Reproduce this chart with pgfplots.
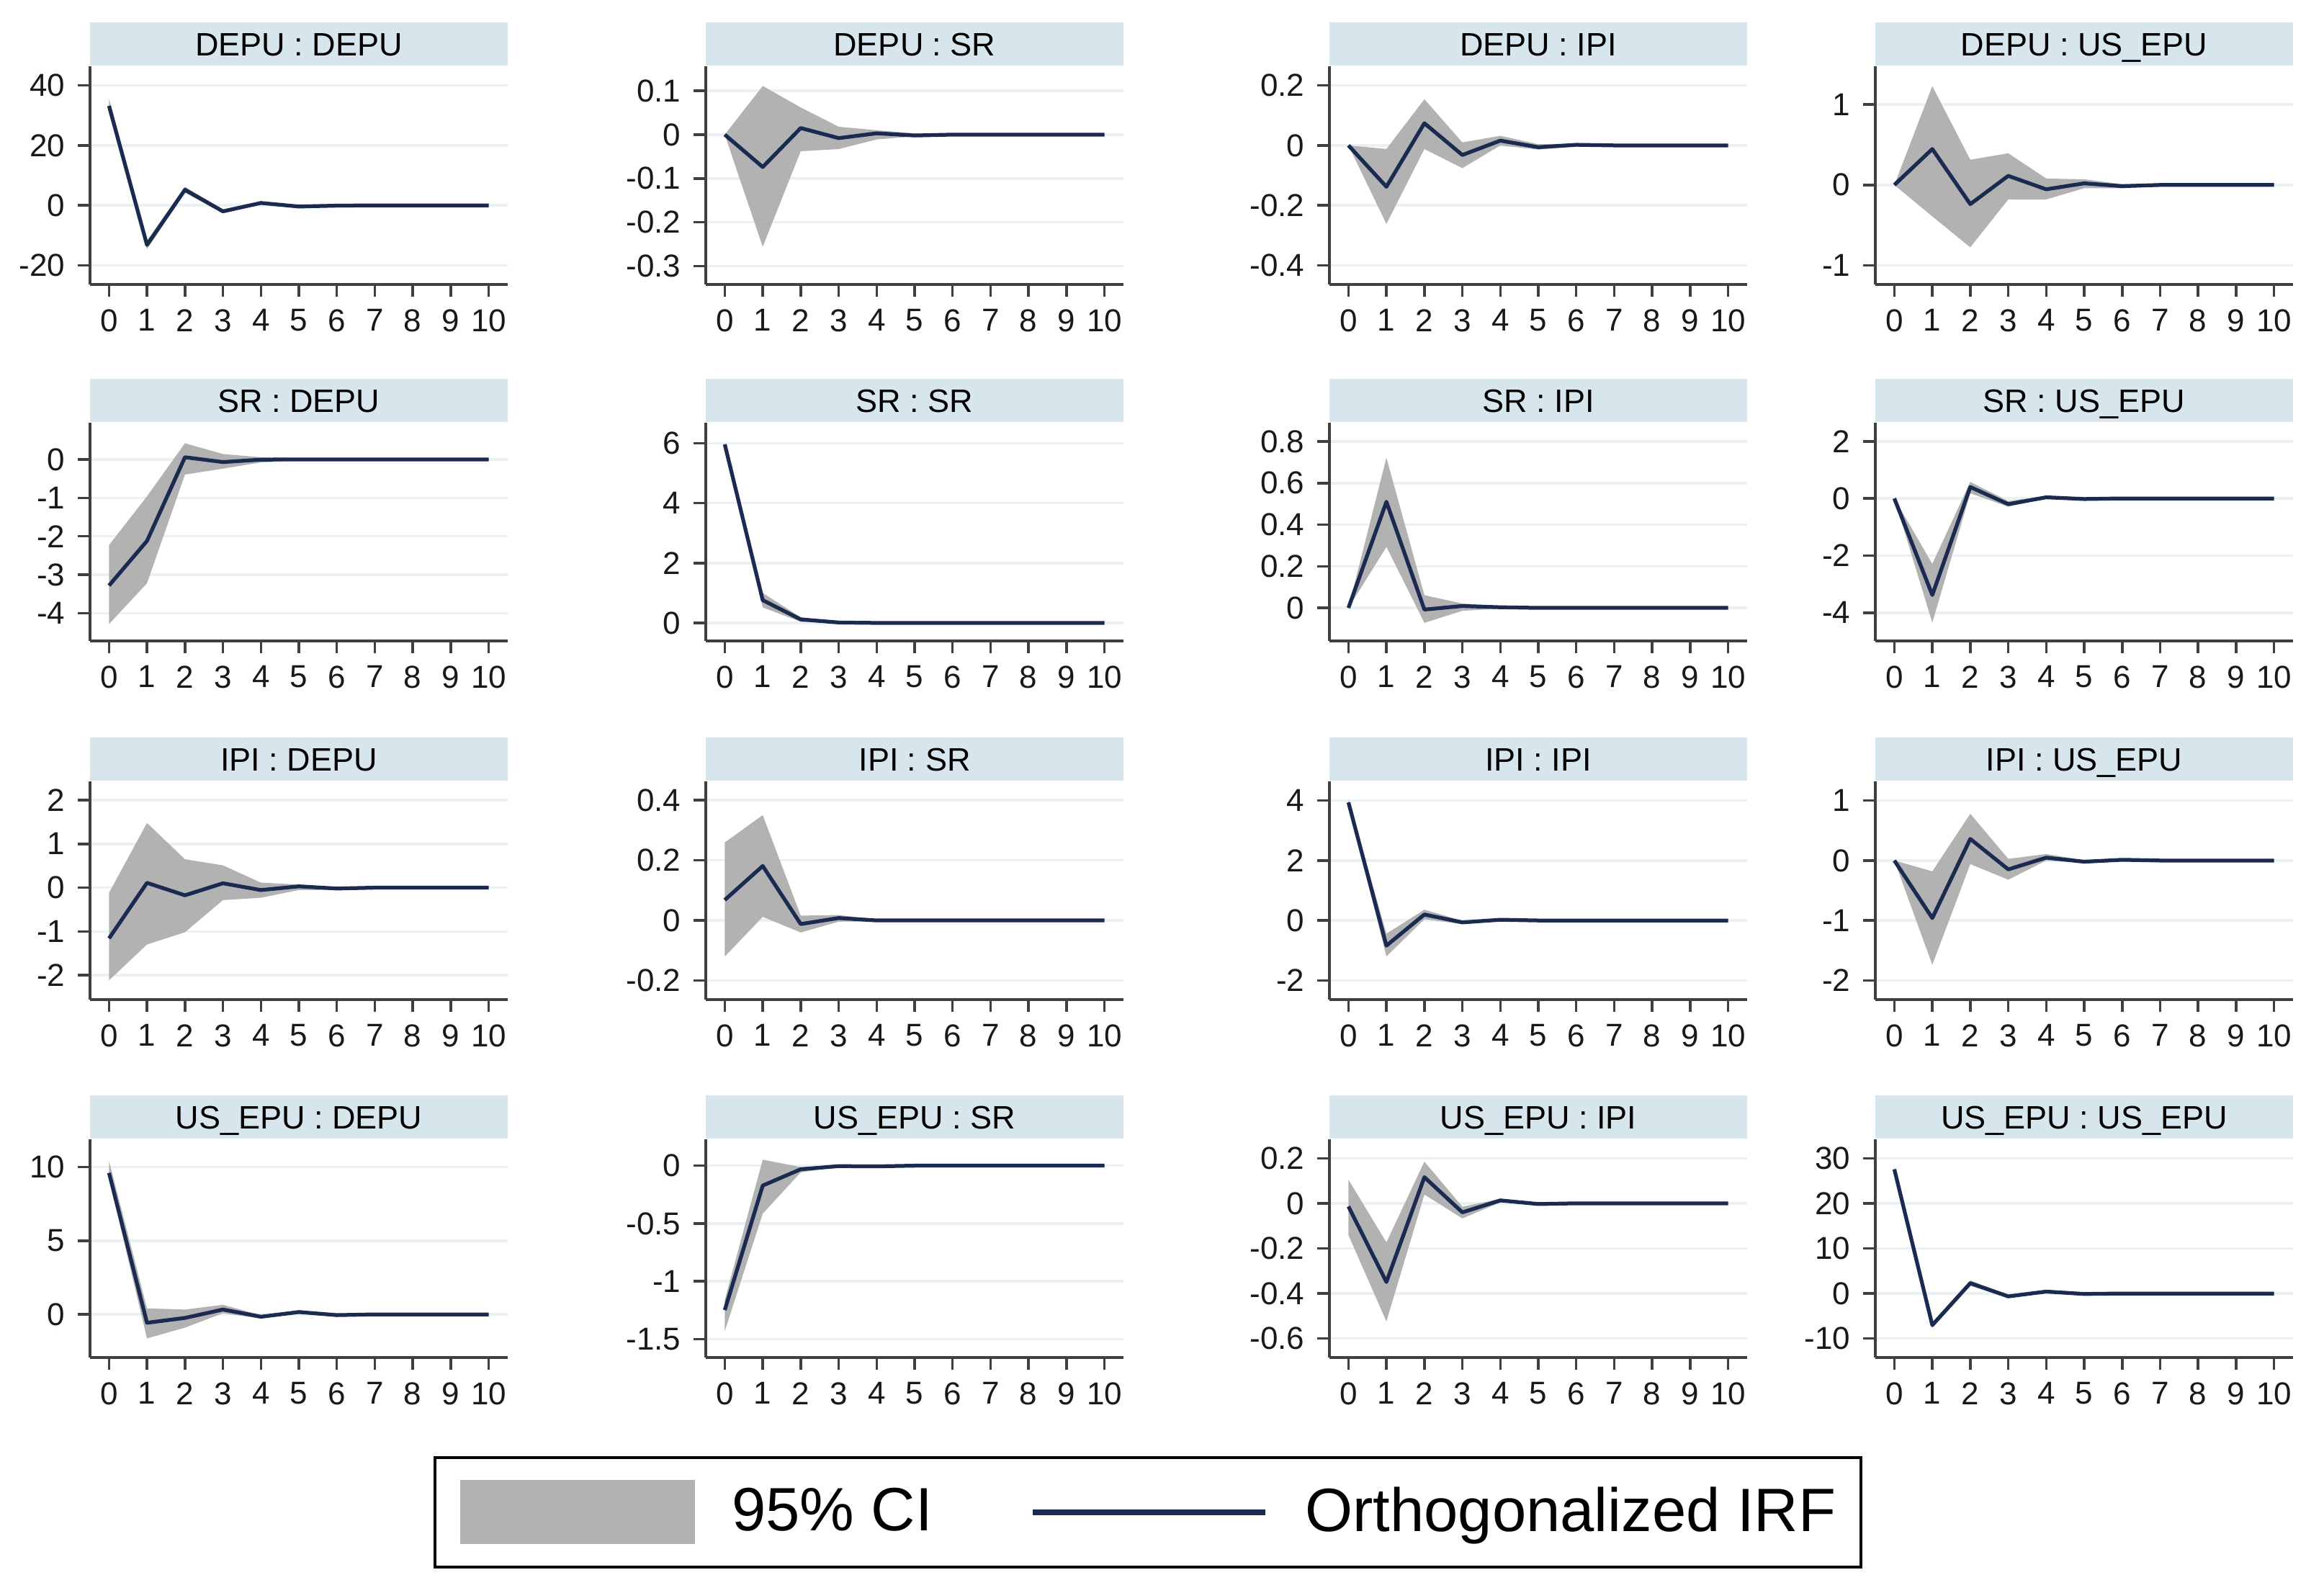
\documentclass[border=0pt]{standalone}
\usepackage{pgfplots}
\pgfplotsset{compat=1.18}
\usepackage{pgfplotstable}
\usepgfplotslibrary{fillbetween}
\usepackage{fontspec}
\setmainfont{Liberation Sans}
\definecolor{strip}{RGB}{214,230,236}
\definecolor{gridc}{RGB}{233,241,244}
\definecolor{cigray}{RGB}{178,178,178}
\definecolor{irfnavy}{RGB}{26,42,80}
\definecolor{axisc}{RGB}{64,64,64}

\pgfplotstableread{
x lo irf hi
0 30.8 33.2 35.6
1 -14.6 -13.2 -11.8
2 4.2 5.2 6.2
3 -2.6 -2.0 -1.4
4 0.3 0.8 1.3
5 -0.8 -0.4 0.0
6 -0.4 -0.1 0.2
7 -0.2 0 0.2
8 -0.1 0 0.1
9 -0.1 0 0.1
10 -0.1 0 0.1
}\tA
\pgfplotstableread{
x lo irf hi
0 0 0 0
1 -0.256 -0.074 0.111
2 -0.038 0.015 0.062
3 -0.033 -0.008 0.018
4 -0.011 0.003 0.010
5 -0.004 -0.002 0.003
6 -0.002 0 0.002
7 -0.001 0 0.001
8 -0.001 0 0.001
9 -0.001 0 0.001
10 -0.001 0 0.001
}\tB
\pgfplotstableread{
x lo irf hi
0 0 0 0
1 -0.262 -0.138 -0.012
2 -0.012 0.074 0.154
3 -0.076 -0.032 0.010
4 0.000 0.016 0.032
5 -0.014 -0.006 0.004
6 -0.004 0.002 0.006
7 -0.003 0 0.003
8 -0.002 0 0.002
9 -0.002 0 0.002
10 -0.002 0 0.002
}\tC
\pgfplotstableread{
x lo irf hi
0 0 0 0
1 -0.39 0.446 1.226
2 -0.774 -0.238 0.313
3 -0.18 0.113 0.393
4 -0.18 -0.054 0.08
5 -0.04 0.02 0.07
6 -0.04 -0.015 0.01
7 -0.015 0 0.015
8 -0.01 0 0.01
9 -0.01 0 0.01
10 -0.01 0 0.01
}\tD
\pgfplotstableread{
x lo irf hi
0 -4.28 -3.28 -2.23
1 -3.22 -2.12 -0.96
2 -0.395 0.056 0.42
3 -0.24 -0.069 0.14
4 -0.08 -0.006 0.056
5 -0.03 0 0.03
6 -0.015 0 0.015
7 -0.01 0 0.01
8 -0.01 0 0.01
9 -0.01 0 0.01
10 -0.01 0 0.01
}\tE
\pgfplotstableread{
x lo irf hi
0 5.90 5.96 6.02
1 0.52 0.76 1.00
2 0.04 0.12 0.19
3 -0.01 0.016 0.04
4 -0.01 0.002 0.015
5 -0.005 0 0.005
6 -0.005 0 0.005
7 -0.005 0 0.005
8 -0.005 0 0.005
9 -0.005 0 0.005
10 -0.005 0 0.005
}\tF
\pgfplotstableread{
x lo irf hi
0 0 0 0
1 0.293 0.51 0.722
2 -0.072 -0.008 0.061
3 -0.014 0.009 0.021
4 -0.004 0.003 0.008
5 -0.002 0 0.002
6 -0.001 0 0.001
7 -0.001 0 0.001
8 -0.001 0 0.001
9 -0.001 0 0.001
10 -0.001 0 0.001
}\tG
\pgfplotstableread{
x lo irf hi
0 0 0 0
1 -4.35 -3.38 -2.29
2 0.18 0.40 0.58
3 -0.29 -0.20 -0.09
4 0.0 0.04 0.08
5 -0.05 -0.02 0.01
6 -0.02 0 0.02
7 -0.01 0 0.01
8 -0.01 0 0.01
9 -0.01 0 0.01
10 -0.01 0 0.01
}\tH
\pgfplotstableread{
x lo irf hi
0 -2.12 -1.16 -0.12
1 -1.30 0.11 1.48
2 -1.02 -0.175 0.65
3 -0.285 0.10 0.51
4 -0.23 -0.055 0.115
5 -0.055 0.03 0.07
6 -0.05 -0.02 0.01
7 -0.02 0 0.02
8 -0.01 0 0.01
9 -0.01 0 0.01
10 -0.01 0 0.01
}\tI
\pgfplotstableread{
x lo irf hi
0 -0.12 0.068 0.259
1 0.012 0.181 0.35
2 -0.04 -0.012 0.016
3 -0.004 0.008 0.018
4 -0.003 0 0.003
5 -0.001 0 0.001
6 -0.001 0 0.001
7 -0.001 0 0.001
8 -0.001 0 0.001
9 -0.001 0 0.001
10 -0.001 0 0.001
}\tJ
\pgfplotstableread{
x lo irf hi
0 3.85 3.94 4.03
1 -1.2 -0.84 -0.44
2 0.04 0.2 0.36
3 -0.12 -0.064 -0.01
4 -0.01 0.024 0.05
5 -0.02 0 0.02
6 -0.01 0 0.01
7 -0.01 0 0.01
8 -0.01 0 0.01
9 -0.01 0 0.01
10 -0.01 0 0.01
}\tK
\pgfplotstableread{
x lo irf hi
0 0 0 0
1 -1.74 -0.96 -0.18
2 -0.06 0.36 0.78
3 -0.32 -0.148 0.028
4 0.0 0.048 0.108
5 -0.04 -0.02 0.005
6 0.0 0.012 0.025
7 -0.01 0 0.01
8 -0.01 0 0.01
9 -0.01 0 0.01
10 -0.01 0 0.01
}\tL
\pgfplotstableread{
x lo irf hi
0 9.2 9.61 10.42
1 -1.63 -0.57 0.41
2 -0.9 -0.24 0.33
3 0.08 0.33 0.65
4 -0.28 -0.16 -0.05
5 0.06 0.16 0.26
6 -0.12 -0.05 0.03
7 -0.05 0 0.05
8 -0.03 0 0.03
9 -0.03 0 0.03
10 -0.03 0 0.03
}\tM
\pgfplotstableread{
x lo irf hi
0 -1.432 -1.249 -1.162
1 -0.415 -0.172 0.052
2 -0.058 -0.031 -0.012
3 -0.01 -0.004 0.002
4 -0.012 -0.006 0
5 -0.003 0 0.003
6 -0.003 0 0.003
7 -0.003 0 0.003
8 -0.003 0 0.003
9 -0.003 0 0.003
10 -0.003 0 0.003
}\tN
\pgfplotstableread{
x lo irf hi
0 -0.141 -0.014 0.105
1 -0.524 -0.349 -0.173
2 0.039 0.116 0.185
3 -0.067 -0.040 -0.015
4 0.004 0.013 0.020
5 -0.007 -0.003 0.002
6 -0.003 0 0.003
7 -0.002 0 0.002
8 -0.002 0 0.002
9 -0.002 0 0.002
10 -0.002 0 0.002
}\tO
\pgfplotstableread{
x lo irf hi
0 27.0 27.55 28.1
1 -7.6 -7.02 -6.4
2 1.7 2.29 2.9
3 -1.0 -0.64 -0.3
4 0.15 0.43 0.7
5 -0.3 -0.1 0.1
6 -0.15 0 0.15
7 -0.1 0 0.1
8 -0.1 0 0.1
9 -0.1 0 0.1
10 -0.1 0 0.1
}\tP

\pgfplotsset{irfpanel/.style={
  scale only axis, width=116pt, height=60.6pt, anchor=south west,
  xmin=-0.5, xmax=10.5, xtick={0,...,10},
  axis x line*=bottom, axis y line*=left,
  tick align=outside, major tick length=3.4pt,
  ymajorgrids, major grid style={draw=gridc, line width=0.7pt},
  axis line style={draw=axisc, line width=0.8pt},
  tick style={draw=axisc, line width=0.7pt},
  tick label style={font=\fontsize{8.8}{10}\selectfont, text=black!90},
  /pgf/number format/assume math mode=true,
  every axis title/.style={at={(0.5,1)}, anchor=south, fill=strip,
    minimum width=116pt, minimum height=12pt, inner sep=0pt,
    text height=6.4pt, text depth=0pt, font=\fontsize{9}{10}\selectfont},
}}

\newcommand{\panel}[6]{%
\begin{axis}[irfpanel, at={#1}, title={#2}, ymin=#4, ymax=#5, ytick={#6}]
\addplot[name path=hi, draw=none, forget plot] table[x=x, y=hi] {#3};
\addplot[name path=lo, draw=none, forget plot] table[x=x, y=lo] {#3};
\addplot[fill=cigray, draw=none, forget plot] fill between[of=hi and lo];
\addplot[irfnavy, line width=1.05pt, mark=none, line join=round] table[x=x, y=irf] {#3};
\end{axis}}

\begin{document}
\begin{tikzpicture}
% row 1
\panel{(25pt,-79pt)}{DEPU : DEPU}{\tA}{-26.4}{46.4}{-20,0,20,40}
\panel{(196pt,-79pt)}{DEPU : SR}{\tB}{-0.342}{0.156}{-0.3,-0.2,-0.1,0,0.1}
\panel{(369.2pt,-79pt)}{DEPU : IPI}{\tC}{-0.464}{0.264}{-0.4,-0.2,0,0.2}
\panel{(520.8pt,-79pt)}{DEPU : US\_EPU}{\tD}{-1.235}{1.473}{-1,0,1}
% row 2
\panel{(25pt,-178pt)}{SR : DEPU}{\tE}{-4.72}{0.953}{-4,-3,-2,-1,0}
\panel{(196pt,-178pt)}{SR : SR}{\tF}{-0.60}{6.68}{0,2,4,6}
\panel{(369.2pt,-178pt)}{SR : IPI}{\tG}{-0.159}{0.89}{0,0.2,0.4,0.6,0.8}
\panel{(520.8pt,-178pt)}{SR : US\_EPU}{\tH}{-4.99}{2.65}{-4,-2,0,2}
% row 3
\panel{(25pt,-277.6pt)}{IPI : DEPU}{\tI}{-2.56}{2.43}{-2,-1,0,1,2}
\panel{(196pt,-277.6pt)}{IPI : SR}{\tJ}{-0.263}{0.462}{-0.2,0,0.2,0.4}
\panel{(369.2pt,-277.6pt)}{IPI : IPI}{\tK}{-2.64}{4.64}{-2,0,2,4}
\panel{(520.8pt,-277.6pt)}{IPI : US\_EPU}{\tL}{-2.32}{1.32}{-2,-1,0,1}
% row 4
\panel{(25pt,-377pt)}{US\_EPU : DEPU}{\tM}{-2.93}{11.89}{0,5,10}
\panel{(196pt,-377pt)}{US\_EPU : SR}{\tN}{-1.66}{0.228}{-1.5,-1,-0.5,0}
\panel{(369.2pt,-377pt)}{US\_EPU : IPI}{\tO}{-0.684}{0.284}{-0.6,-0.4,-0.2,0,0.2}
\panel{(520.8pt,-377pt)}{US\_EPU : US\_EPU}{\tP}{-14.2}{34.2}{-10,0,10,20,30}
% legend
\begin{axis}[hide axis, scale only axis, width=10pt, height=10pt,
  at={(318.8pt,-419.9pt)}, anchor=center,
  xmin=0, xmax=1, ymin=0, ymax=1, legend columns=2,
  legend style={at={(0.5,0.5)}, anchor=center, draw=black, line width=0.8pt,
    font=\fontsize{17}{19}\selectfont, inner xsep=7pt, inner ysep=6.3pt,
    nodes={inner xsep=0pt, inner ysep=0pt},
    /tikz/every odd column/.append style={column sep=10.3pt},
    /tikz/every even column/.append style={column sep=27pt},
    cells={anchor=west}}]
\addlegendimage{legend image code/.code={\fill[cigray] (0pt,-8.5pt) rectangle (64.4pt,8.5pt);}}
\addlegendentry{95\% CI}
\addlegendimage{legend image code/.code={\draw[irfnavy, line width=1.6pt] (0pt,0pt) -- (64.6pt,0pt);}}
\addlegendentry{Orthogonalized IRF\hspace{8.6pt}}
\end{axis}
\pgfresetboundingbox
\path[use as bounding box] (0pt,0pt) rectangle (645.4pt,-442.2pt);
\end{tikzpicture}
\end{document}
